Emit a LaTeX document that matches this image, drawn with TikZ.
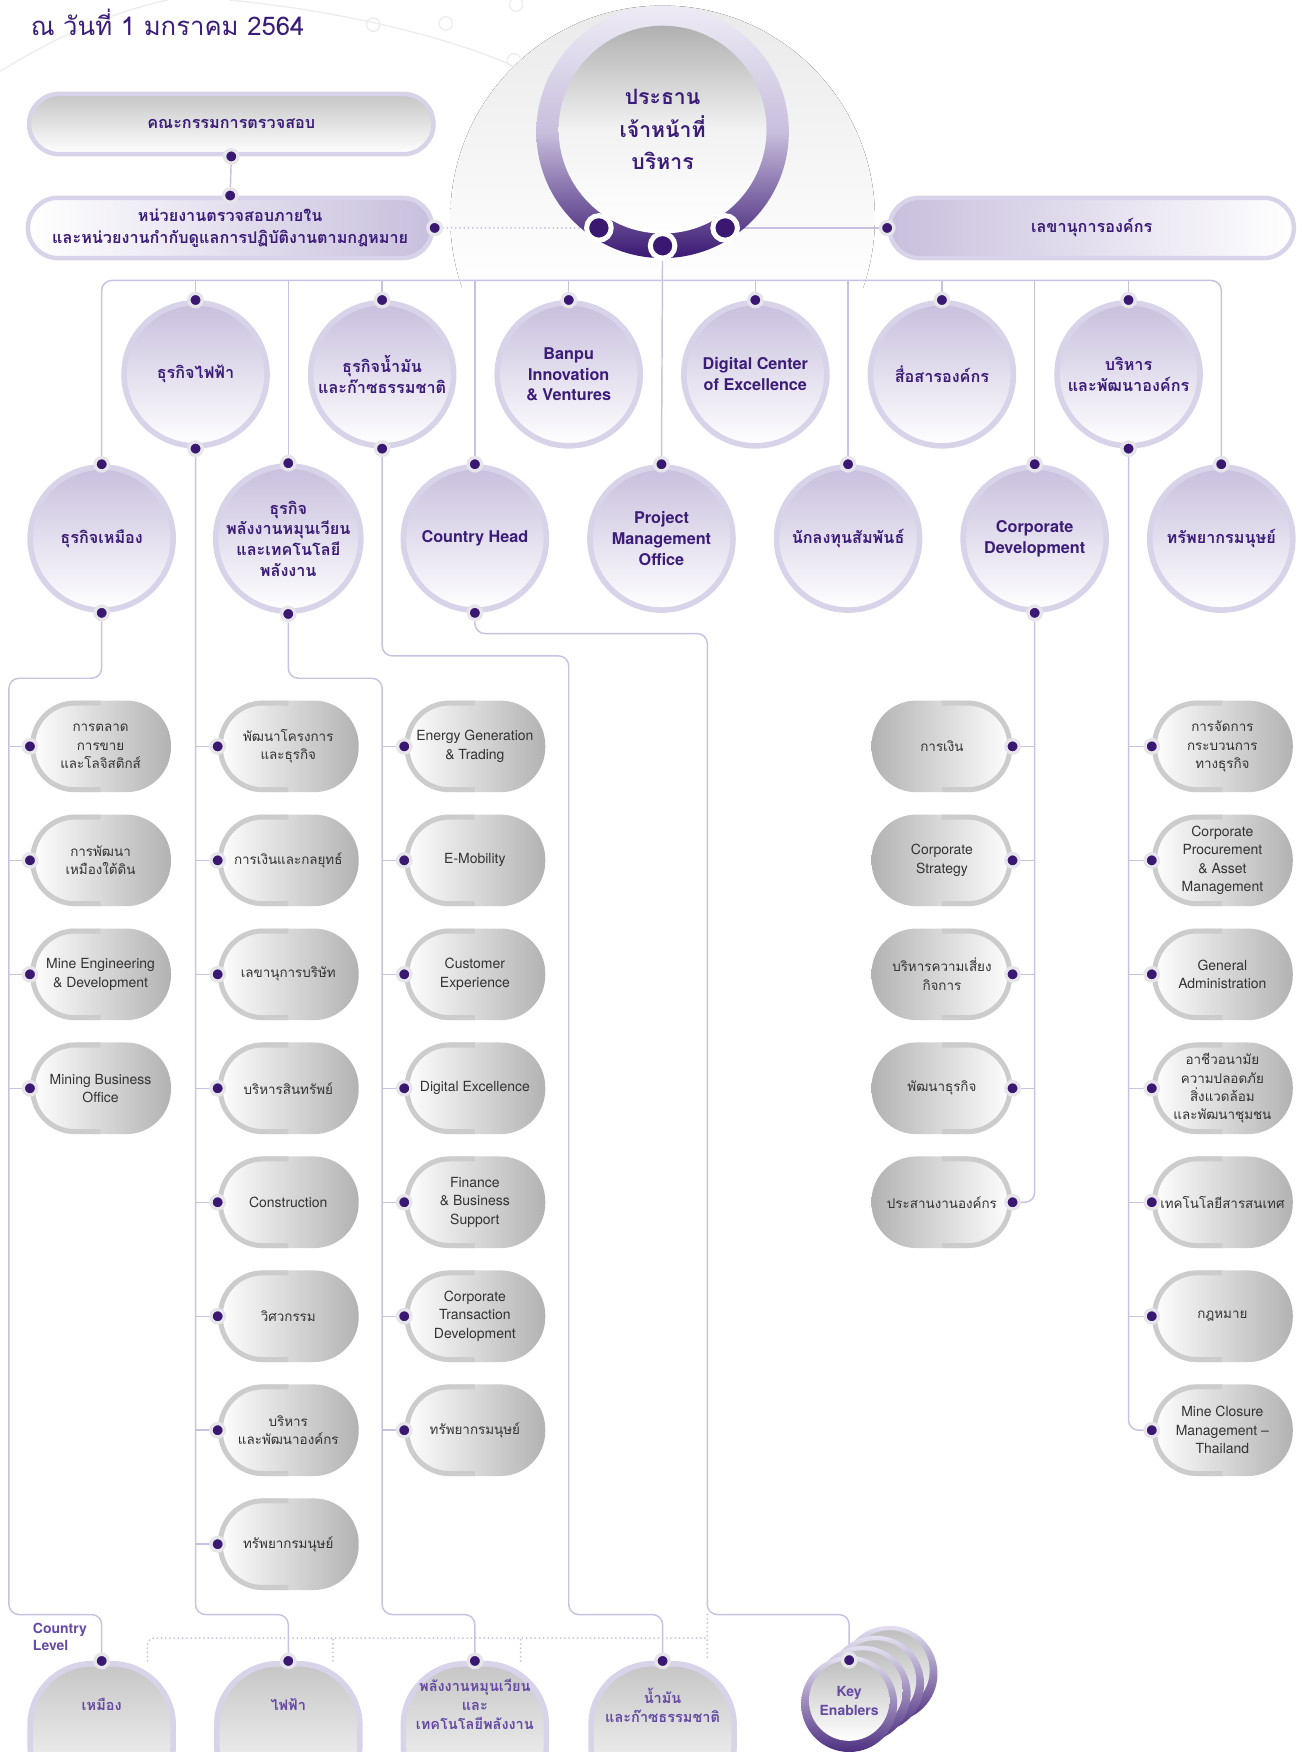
\documentclass[tikz,border=0pt]{standalone}
\usepackage{fontspec}
\setmainfont{TeX Gyre Heros}
\newfontfamily\thaifont[Script=Thai]{Loma}
\usetikzlibrary{positioning}
\usetikzlibrary{backgrounds}

\definecolor{ink}{HTML}{3B1C78}
\definecolor{plum}{HTML}{3A1872}
\definecolor{soft}{HTML}{6549A3}
\definecolor{rim}{HTML}{D9D3EA}
\definecolor{lilac}{HTML}{C8BFDD}
\definecolor{wire}{HTML}{C8C1E2}
\definecolor{halo}{HTML}{E6E6EA}

\newcommand\unitsize{\fontsize{14.5}{18.5}\selectfont}
\newcommand\partsize{\fontsize{12.5}{16.5}\selectfont}

\tikzset{
  link/.style={draw=wire, line width=1.3pt, rounded corners=9pt},
  dotlink/.style={draw=wire, line width=1.8pt, line cap=round, dash pattern=on 0pt off 3.8pt, rounded corners=6pt},
  deco/.style={draw=gray!14, line width=1.2pt},
  knob/.style={circle, fill=plum, draw=halo, line width=3pt, minimum size=12pt, inner sep=0pt},
  bigknob/.style={knob, draw=white, line width=4.5pt, minimum size=22pt},
  plate/.style={rectangle, rounded corners=27pt, minimum width=362pt, minimum height=54pt, inner sep=0pt,
    draw=rim, line width=4pt, text=ink, align=center, font=\thaifont\bfseries\fontsize{14.5}{20}\selectfont},
  unit/.style={circle, minimum size=128pt, inner sep=0pt, draw=rim, line width=5pt, top color=lilac, bottom color=white,
    text=ink, align=center, font=\bfseries\unitsize,
    append after command={node[knob] at (\tikzlastnode.north) {}}},
  unit th/.style={unit, font=\thaifont\bfseries\unitsize},
  part/.style={rectangle, rounded corners=40pt, minimum width=126pt, minimum height=82pt, inner sep=0pt,
    align=center, text=black!80, font=\partsize, left color=white, right color=gray!60,
    path picture={\draw[gray!40, line width=9pt, rounded corners=40pt] (path picture bounding box.north)
      -- (path picture bounding box.north west) -- (path picture bounding box.south west) -- (path picture bounding box.south);},
    append after command={node[knob] at (\tikzlastnode.west) {}}},
  part th/.style={part, font=\thaifont\fontsize{12}{16.5}\selectfont},
  partr/.style={rectangle, rounded corners=40pt, minimum width=126pt, minimum height=82pt, inner sep=0pt,
    align=center, text=black!80, font=\partsize, left color=gray!60, right color=white,
    path picture={\draw[gray!40, line width=9pt, rounded corners=40pt] (path picture bounding box.north)
      -- (path picture bounding box.north east) -- (path picture bounding box.south east) -- (path picture bounding box.south);},
    append after command={node[knob] at (\tikzlastnode.east) {}}},
  partr th/.style={partr, font=\thaifont\fontsize{12}{16.5}\selectfont},
  ctry/.style={rectangle, rounded corners=55pt, minimum width=128pt, minimum height=128pt, draw=rim, line width=5pt,
    top color=gray!45, bottom color=white,
    append after command={node[knob] at (\tikzlastnode.north) {}}},
  ctrytext/.style={text=soft, align=center, font=\thaifont\bfseries\fontsize{13}{17}\selectfont},
  disc/.style={circle, minimum size=86pt, inner sep=0pt, top color=rim!70, bottom color=plum!90},
  face/.style={circle, minimum size=72pt, inner sep=0pt, top color=gray!50, bottom color=white,
    text=soft, align=center, font=\bfseries\fontsize{12.5}{17}\selectfont},
}

\begin{document}
\begin{tikzpicture}[x=1pt, y=-1pt, on grid, node distance=102pt]
  \useasboundingbox (0,0) rectangle (1165,1568);

  % levels the wires run along
  \coordinate (bus) at (0,251);
  \coordinate (ch shelf) at (0,567);
  \coordinate (oil shelf) at (0,587);
  \coordinate (shelf) at (0,607);
  \coordinate (floor) at (0,1445);
  \coordinate (dotline) at (0,1466);
  \coordinate (rail) at (8,0);
  \coordinate (lane) at (633,0);

  \node (asof) [anchor=west, text=ink, font=\thaifont\fontsize{23}{28}\selectfont] at (24,20) {ณ วันที่ 1 มกราคม 2564};

  % top
  \node (ac) [plate, top color=gray!45, bottom color=white] at (207,111) {คณะกรรมการตรวจสอบ};
  \node (ia) [plate, left color=white, right color=lilac] at (206,204) {หน่วยงานตรวจสอบภายใน\\และหน่วยงานกำกับดูแลการปฏิบัติงานตามกฎหมาย};
  \node (sec) [plate, left color=lilac, right color=white] at (977,204) {เลขานุการองค์กร};
  \node (ac s) [knob] at (ac.south) {};
  \node (ia n) [knob] at (ia.north) {};
  \node (ia e) [knob] at (ia.east) {};
  \node (sec w) [knob] at (sec.west) {};

  \node (ceo ring) [circle, minimum size=226pt, inner sep=0pt, top color=rim!45, bottom color=plum, middle color=lilac] at (593,118) {};
  \node (ceo) [circle, minimum size=186pt, inner sep=0pt, top color=gray!62, bottom color=white, middle color=gray!10,
    text=ink, align=center, font=\thaifont\bfseries\fontsize{19}{29}\selectfont] at (593,116) {ประธาน\\เจ้าหน้าที่\\บริหาร};
  \node (ceo w) [bigknob] at ([shift={(-57,86)}]ceo ring.center) {};
  \node (ceo s) [bigknob] at ([shift={(0,102)}]ceo ring.center) {};
  \node (ceo e) [bigknob] at ([shift={(56,86)}]ceo ring.center) {};

  % first row
  \node (elec) [unit th] at (175,335) {ธุรกิจไฟฟ้า};
  \node (oilgas) [unit th, right=167pt of elec] {ธุรกิจน้ำมัน\\และก๊าซธรรมชาติ};
  \node (biv) [unit, right=167pt of oilgas] {Banpu\\Innovation\\\& Ventures};
  \node (dcoe) [unit, right=167pt of biv] {Digital Center\\of Excellence};
  \node (comms) [unit th, right=167pt of dcoe] {สื่อสารองค์กร};
  \node (orgdev) [unit th, right=167pt of comms] {บริหาร\\และพัฒนาองค์กร};

  % second row
  \node (mining) [unit th] at (91,482) {ธุรกิจเหมือง};
  \node (renew) [unit th, right=167pt of mining] {ธุรกิจ\\พลังงานหมุนเวียน\\และเทคโนโลยี\\พลังงาน};
  \node (chead) [unit, right=167pt of renew] {Country Head};
  \node (pmo) [unit, right=167pt of chead] {Project\\Management\\Office};
  \node (ir) [unit th, right=167pt of pmo] {นักลงทุนสัมพันธ์};
  \node (cdev) [unit, right=167pt of ir] {Corporate\\Development};
  \node (hr) [unit th, right=167pt of cdev] {ทรัพยากรมนุษย์};

  \node (elec s) [knob] at (elec.south) {};
  \node (oilgas s) [knob] at (oilgas.south) {};
  \node (orgdev s) [knob] at (orgdev.south) {};
  \node (mining s) [knob] at (mining.south) {};
  \node (renew s) [knob] at (renew.south) {};
  \node (chead s) [knob] at (chead.south) {};
  \node (cdev s) [knob] at (cdev.south) {};

  % mining units
  \node (mkt) [part th] at (90,668) {การตลาด\\การขาย\\และโลจิสติกส์};
  \node (udg) [part th, below=of mkt] {การพัฒนา\\เหมืองใต้ดิน};
  \node (med) [part, below=of udg] {Mine Engineering\\\& Development};
  \node (mbo) [part, below=of med] {Mining Business\\Office};

  % power units
  \node (pdev) [part th] at (258,668) {พัฒนาโครงการ\\และธุรกิจ};
  \node (fst) [part th, below=of pdev] {การเงินและกลยุทธ์};
  \node (csec) [part th, below=of fst] {เลขานุการบริษัท};
  \node (asset) [part th, below=of csec] {บริหารสินทรัพย์};
  \node (cons) [part, below=of asset] {Construction};
  \node (eng) [part th, below=of cons] {วิศวกรรม};
  \node (podev) [part th, below=of eng] {บริหาร\\และพัฒนาองค์กร};
  \node (phr) [part th, below=of podev] {ทรัพยากรมนุษย์};

  % renewable units
  \node (egt) [part] at (425,668) {Energy Generation\\\& Trading};
  \node (emob) [part, below=of egt] {E-Mobility};
  \node (cx) [part, below=of emob] {Customer\\Experience};
  \node (dx) [part, below=of cx] {Digital Excellence};
  \node (fbs) [part, below=of dx] {Finance\\\& Business\\Support};
  \node (ctd) [part, below=of fbs] {Corporate\\Transaction\\Development};
  \node (rhr) [part th, below=of ctd] {ทรัพยากรมนุษย์};

  % corporate development units
  \node (cfin) [partr th] at (843,668) {การเงิน};
  \node (cstr) [partr, below=of cfin] {Corporate\\Strategy};
  \node (risk) [partr th, below=of cstr] {บริหารความเสี่ยง\\กิจการ};
  \node (bdev) [partr th, below=of risk] {พัฒนาธุรกิจ};
  \node (coord) [partr th, below=of bdev] {ประสานงานองค์กร};

  % organisation units
  \node (bpm) [part th] at (1094,668) {การจัดการ\\กระบวนการ\\ทางธุรกิจ};
  \node (cpam) [part, below=of bpm] {Corporate\\Procurement\\\& Asset\\Management};
  \node (gad) [part, below=of cpam] {General\\Administration};
  \node (shec) [part th, below=of gad] {อาชีวอนามัย\\ความปลอดภัย\\สิ่งแวดล้อม\\และพัฒนาชุมชน};
  \node (ict) [part th, below=of shec] {เทคโนโลยีสารสนเทศ};
  \node (legal) [part th, below=of ict] {กฎหมาย};
  \node (mcm) [part, below=of legal] {Mine Closure\\Management --\\Thailand};

  % country level
  \node (lvl) [anchor=west, text=soft, align=left, font=\bfseries\fontsize{12.5}{16}\selectfont] at (26,1465) {Country\\Level};
  \node (c mine) [ctry] at (91,1553) {};
  \node (c power) [ctry] at (258,1553) {};
  \node (c renew) [ctry] at (425,1553) {};
  \node (c oil) [ctry] at (593,1553) {};
  \node (c mine t) [ctrytext] at (91,1525) {เหมือง};
  \node (c power t) [ctrytext] at (258,1525) {ไฟฟ้า};
  \node (c renew t) [ctrytext] at (425,1525) {พลังงานหมุนเวียน\\และ\\เทคโนโลยีพลังงาน};
  \node (c oil t) [ctrytext] at (593,1526) {น้ำมัน\\และก๊าซธรรมชาติ};

  \node (key c) [disc] at (796,1498) {};
  \node (key c f) [face] at (796,1495) {};
  \node (key b) [disc] at (784,1507) {};
  \node (key b f) [face] at (784,1504) {};
  \node (key a) [disc] at (772,1516) {};
  \node (key a f) [face] at (772,1513) {};
  \node (key) [disc] at (760,1525) {};
  \node (key f) [face] at (760,1522) {Key\\Enablers};
  \node (key n) [knob] at ([yshift=-4pt]key.north) {};

  \coordinate (mine sh) at ([xshift=41pt]c mine.north);
  \coordinate (power sh) at ([xshift=40pt]c power.north);
  \coordinate (renew sh) at ([xshift=41pt]c renew.north);

  \begin{scope}[on background layer]
    \begin{scope}
      \clip (593,195) circle[radius=190];
      \fill[top color=gray!17, bottom color=white] (400,0) rectangle (790,258);
    \end{scope}
    \draw[deco] (0,64) .. controls (45,36) and (95,12) .. (150,0);
    \draw[deco] (205,0) .. controls (290,8) and (400,30) .. (470,64);
    \draw[deco] (334,22) circle[radius=6] (399,21) circle[radius=6] (460,54) circle[radius=6] (462,4) circle[radius=6];

    \draw[link] (ac s) -- (ia n);
    \draw[dotlink] (ia e) -- (ceo w);
    \draw[link] (ceo e) -- (sec w);
    \draw[link] (ceo s) -- (pmo.north);

    % bus
    \draw[link] (mining.north) -- (mining.north |- bus) -- (hr.north |- bus) -- (hr.north);
    \draw[link] (elec.north) -- (elec.north |- bus) (oilgas.north) -- (oilgas.north |- bus)
      (biv.north) -- (biv.north |- bus) (dcoe.north) -- (dcoe.north |- bus)
      (comms.north) -- (comms.north |- bus) (orgdev.north) -- (orgdev.north |- bus)
      (renew.north) -- (renew.north |- bus) (chead.north) -- (chead.north |- bus)
      (ir.north) -- (ir.north |- bus) (cdev.north) -- (cdev.north |- bus);

    % trunks
    \draw[link] (mining s) -- (mining s |- shelf) -- (rail |- shelf) -- (rail |- floor) -- (c mine |- floor) -- (c mine.north);
    \draw[link] (elec s) -- (elec s |- floor) -- (c power |- floor) -- (c power.north);
    \draw[link] (renew s) -- (renew s |- shelf) -- (oilgas s |- shelf) -- (oilgas s |- floor) -- (c renew |- floor) -- (c renew.north);
    \draw[link] (oilgas s) -- (oilgas s |- oil shelf) -- (biv |- oil shelf) -- (biv |- floor) -- (c oil |- floor) -- (c oil.north);
    \draw[link] (chead s) -- (chead s |- ch shelf) -- (lane |- ch shelf) -- (lane |- floor) -- (key |- floor) -- (key n);
    \draw[link] (cdev s) -- (cdev s |- coord.east) -- (coord.east);
    \draw[link] (orgdev s) -- (orgdev s |- mcm.west) -- (mcm.west);

    % branches
    \draw[link] (mkt.west) -- (rail |- mkt.west) (udg.west) -- (rail |- udg.west)
      (med.west) -- (rail |- med.west) (mbo.west) -- (rail |- mbo.west);
    \draw[link] (pdev.west) -- (elec s |- pdev.west) (fst.west) -- (elec s |- fst.west)
      (csec.west) -- (elec s |- csec.west) (asset.west) -- (elec s |- asset.west)
      (cons.west) -- (elec s |- cons.west) (eng.west) -- (elec s |- eng.west)
      (podev.west) -- (elec s |- podev.west) (phr.west) -- (elec s |- phr.west);
    \draw[link] (egt.west) -- (oilgas s |- egt.west) (emob.west) -- (oilgas s |- emob.west)
      (cx.west) -- (oilgas s |- cx.west) (dx.west) -- (oilgas s |- dx.west)
      (fbs.west) -- (oilgas s |- fbs.west) (ctd.west) -- (oilgas s |- ctd.west)
      (rhr.west) -- (oilgas s |- rhr.west);
    \draw[link] (cfin.east) -- (cdev s |- cfin.east) (cstr.east) -- (cdev s |- cstr.east)
      (risk.east) -- (cdev s |- risk.east) (bdev.east) -- (cdev s |- bdev.east);
    \draw[link] (bpm.west) -- (orgdev s |- bpm.west) (cpam.west) -- (orgdev s |- cpam.west)
      (gad.west) -- (orgdev s |- gad.west) (shec.west) -- (orgdev s |- shec.west)
      (ict.west) -- (orgdev s |- ict.west) (legal.west) -- (orgdev s |- legal.west);

    % country level
    \draw[dotlink] (mine sh) -- (mine sh |- dotline) -- (lane |- dotline);
    \draw[dotlink] (power sh) -- (power sh |- dotline) (renew sh) -- (renew sh |- dotline);
    \draw[dotlink] (lane |- floor) -- (lane |- c oil.north);
  \end{scope}
\end{tikzpicture}
\end{document}
